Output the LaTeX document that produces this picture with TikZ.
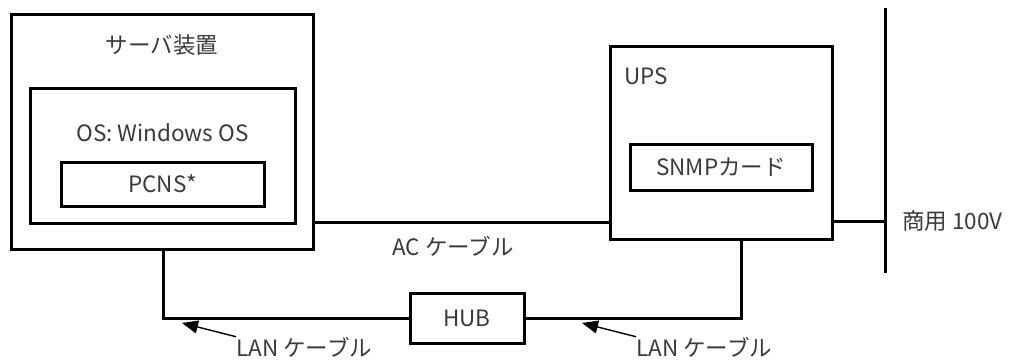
\documentclass[tikz,border=0pt]{standalone}
\usepackage{fontspec}
\setmainfont{Noto Sans CJK JP}
\usepackage{tikz}
\usetikzlibrary{arrows.meta}
\definecolor{txtgray}{HTML}{3A3A3A}

\begin{document}
\begin{tikzpicture}[x=1pt,y=-1pt,>=Stealth,line join=miter,
    box/.style={draw,line width=3pt,inner sep=0pt,font=\fontsize{22.5}{26}\selectfont,text=txtgray},
    lbl/.style={inner sep=0pt,font=\fontsize{22.5}{26}\selectfont,text=txtgray},
    wire/.style={line width=3pt},
    pointer/.style={line width=1.4pt,-{Triangle[length=16pt,width=13pt]}}]
  \useasboundingbox (0,0) rectangle (1009,359);

  % Server side
  \node[box,minimum width=302pt,minimum height=235pt] (server) at (162,131.5) {};
  \node[box,minimum width=265pt,minimum height=135pt] (os) at (162.5,155.5) {};
  \node[box,minimum width=203pt,minimum height=44pt] (pcns) at (162.5,184) {PCNS*};
  \node[lbl] (servername) at (162,45) {サーバ装置};
  \node[lbl] (osname) at (162.5,133) {OS: Windows OS};

  % UPS side
  \node[box,minimum width=222pt,minimum height=193pt] (ups) at (721,142.5) {};
  \node[box,minimum width=182pt,minimum height=46pt] (snmp) at (721,167) {SNMPカード};
  \node[lbl,anchor=west] (upsname) at (624,76) {UPS};

  % HUB
  \node[box,minimum width=114pt,minimum height=50pt] (hub) at (467,318) {HUB};

  % Mains
  \coordinate (mainsTop) at (885,8);
  \coordinate (mainsBot) at (885,273);
  \draw[wire] (mainsTop) -- (mainsBot);
  \node[lbl,anchor=west] (mains) at (902,221) {商用 100V};

  % AC cable
  \draw[wire] (server.east |- 0,222) -- (ups.west |- 0,222);
  \draw[wire] (ups.east |- 0,221) -- (mainsTop |- 0,221);
  \node[lbl] (aclabel) at (453,246) {AC ケーブル};

  % LAN cables
  \coordinate (lanL) at (163,318);
  \coordinate (lanR) at (741,318);
  \draw[wire] (server.south -| lanL) -- (lanL) -- (hub.west);
  \draw[wire] (hub.east) -- (lanR) -- (ups.south -| lanR);

  % LAN labels
  \node[lbl,anchor=west] (lanlabelL) at (236,347) {LAN ケーブル};
  \node[lbl,anchor=west] (lanlabelR) at (636,347) {LAN ケーブル};
  \coordinate (tipL) at (182,323);
  \coordinate (tipR) at (582,323);
  \draw[pointer] (lanlabelL.north west) -- (tipL);
  \draw[pointer] (lanlabelR.north west) -- (tipR);
\end{tikzpicture}
\end{document}
